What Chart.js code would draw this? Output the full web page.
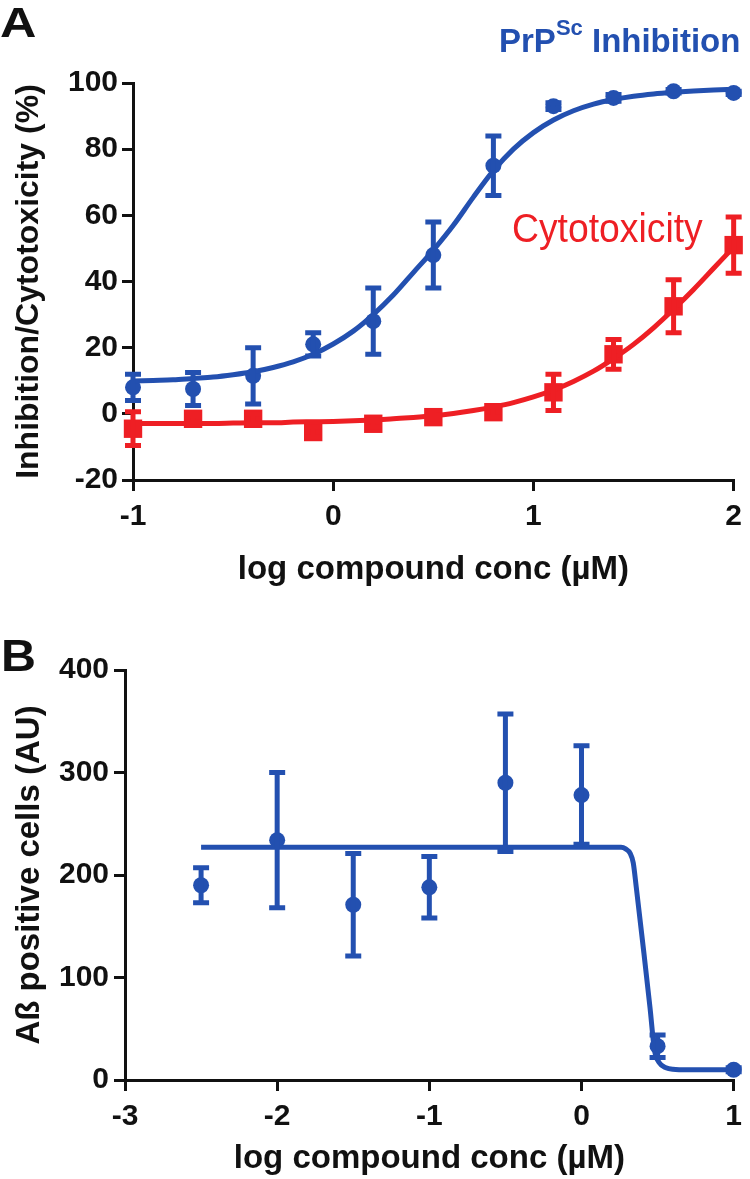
<!DOCTYPE html>
<html><head><meta charset="utf-8">
<script src="https://cdn.jsdelivr.net/npm/chart.js@4.4.1/dist/chart.umd.min.js"></script>
<style>
body{margin:0;background:#fff;}
#wrap{position:relative;width:750px;height:1179px;overflow:hidden;font-family:"Liberation Sans",Arial,sans-serif;}
canvas{position:absolute;left:0;}
.lbl{position:absolute;white-space:nowrap;line-height:1;transform-origin:0 0;}
</style></head><body>
<div id="wrap">
<canvas id="cA" width="750" height="600" style="top:0"></canvas>
<canvas id="cB" width="750" height="579" style="top:600px"></canvas>
<div class="lbl" style="left:0;top:2px;font-weight:bold;font-size:42px;color:#111;transform:scaleX(1.2);">A</div>
<div class="lbl" style="left:1px;top:634px;font-weight:bold;font-size:44px;color:#111;transform:scaleX(1.1);">B</div>
<div class="lbl" style="left:499px;top:24px;font-weight:bold;font-size:33px;color:#2350B0;">PrP<span style="font-size:22px;position:relative;top:-17px;">Sc</span> Inhibition</div>
<div class="lbl" style="left:512px;top:208px;font-size:41px;color:#EE1F24;transform:scaleX(0.91);">Cytotoxicity</div>
</div>
<script>
// ---- Panel A data ----
const xA = [-1, -0.7, -0.4, -0.1, 0.2, 0.5, 0.8, 1.1, 1.4, 1.7, 2];
const blueMean = [8, 7.5, 11.5, 21, 28, 48, 75, 93, 95.5, 97.5, 97];
const blueErr  = [4, 5, 8.5, 3.5, 10, 10, 9, 1, 1, 0.5, 0.5];
const redMean  = [-4.5, -1.5, -1.5, -5.5, -3, -1, 0.5, 6.5, 18, 32.5, 51];
const redErr   = [5.1, 1, 1.5, 1.5, 1, 0.5, 1.5, 5.5, 4.5, 8, 8.5];
const curveXA = [-1.0,-0.9,-0.8,-0.7,-0.6,-0.5,-0.4,-0.3,-0.2,-0.1,0.0,0.1,0.2,0.3,0.4,0.5,0.6,0.7,0.8,0.9,1.0,1.1,1.2,1.3,1.4,1.5,1.6,1.7,1.8,1.9,2.0];
const blueFit = [9.9,10.1,10.3,10.7,11.1,11.8,12.7,14.0,15.7,18.0,21.1,25.0,30.0,35.9,42.7,49.5,57.0,65.5,73.5,80.0,85.0,88.8,91.6,93.6,95.0,96.0,96.7,97.2,97.6,97.9,98.1];
const redFit  = [-2.9,-2.9,-2.9,-2.9,-2.9,-2.8,-2.7,-2.7,-2.5,-2.4,-2.3,-2.1,-1.9,-1.5,-1.1,-0.6,0.1,1.0,2.1,3.4,5.1,7.2,9.8,12.9,16.7,21.0,26.0,31.6,37.6,44.0,50.4];
const xTicksA = [-1, 0, 1, 2];
const yTicksA = [-20, 0, 20, 40, 60, 80, 100];

// ---- Panel B data ----
const xB = [-2.5, -2, -1.5, -1, -0.5, 0, 0.5, 1];
const bMean = [190, 234, 171, 188, 290, 278, 33, 10];
const bErr  = [17, 66, 50, 30, 67, 48, 11, 2];
const curveXB = [-2.5, 0.26, 0.29, 0.32, 0.34, 0.36, 0.41, 0.45, 0.48, 0.51, 0.555, 0.6, 0.7, 1.0];
const curveYB = [227, 227, 225.5, 221, 212, 188, 124, 71, 29, 17, 12, 10.5, 10, 10];
const xTicksB = [-3, -2, -1, 0, 1];
const yTicksB = [0, 100, 200, 300, 400];

const BLUE = '#2350B0', RED = '#EE1F24', INK = '#111';
const FONT = '"Liberation Sans", Arial, sans-serif';

const pts = (xs, ys) => xs.map((x, i) => ({x, y: ys[i]}));

const errorBars = {
  id: 'errorBars',
  afterDatasetsDraw(chart) {
    const ctx = chart.ctx, xs = chart.scales.x, ys = chart.scales.y;
    chart.data.datasets.forEach(ds => {
      if (!ds.errors) return;
      ctx.save();
      ctx.strokeStyle = ds.borderColor; ctx.lineWidth = 5; ctx.lineCap = 'butt';
      ds.data.forEach((p, j) => {
        const e = ds.errors[j];
        const px = xs.getPixelForValue(p.x);
        const yt = ys.getPixelForValue(p.y + e), yb = ys.getPixelForValue(p.y - e);
        ctx.beginPath();
        ctx.moveTo(px, yt); ctx.lineTo(px, yb);
        ctx.moveTo(px - 8, yt); ctx.lineTo(px + 8, yt);
        ctx.moveTo(px - 8, yb); ctx.lineTo(px + 8, yb);
        ctx.stroke();
      });
      ctx.restore();
    });
  }
};

function axis(min, max, ticks, title, opts) {
  return {
    type: 'linear', min, max,
    afterBuildTicks: s => { s.ticks = ticks.map(v => ({value: v})); },
    afterFit: s => { if (opts.w !== undefined) s.width = opts.w; if (opts.h !== undefined) s.height = opts.h; },
    border: {display: true, color: INK, width: 3},
    grid: {display: true, drawOnChartArea: false, drawTicks: true, tickLength: 11, lineWidth: 3, color: INK, tickColor: INK},
    ticks: {color: INK, font: {family: FONT, size: 30, weight: 'bold'}, padding: opts.tp},
    title: {display: true, text: title, color: INK, font: {family: FONT, size: opts.ts, weight: 'bold'}, padding: opts.titlePad}
  };
}

function baseOpts(layoutPad, xAxis, yAxis) {
  return {
    responsive: false, animation: false, devicePixelRatio: 1,
    layout: {padding: layoutPad},
    plugins: {legend: {display: false}, tooltip: {enabled: false}},
    scales: {x: xAxis, y: yAxis}
  };
}

new Chart(document.getElementById('cA'), {
  type: 'scatter',
  data: {datasets: [
    {data: pts(curveXA, blueFit), showLine: true, borderColor: BLUE, borderWidth: 5, pointRadius: 0, cubicInterpolationMode: 'monotone', clip: false},
    {data: pts(curveXA, redFit), showLine: true, borderColor: RED, borderWidth: 5, pointRadius: 0, cubicInterpolationMode: 'monotone', clip: false},
    {data: pts(xA, blueMean), errors: blueErr, showLine: false, pointStyle: 'circle', pointRadius: 8, backgroundColor: BLUE, borderColor: BLUE, borderWidth: 0, clip: false},
    {data: pts(xA, redMean), errors: redErr, showLine: false, pointStyle: 'rect', pointRadius: 13, backgroundColor: RED, borderColor: RED, borderWidth: 0, clip: false}
  ]},
  options: baseOpts({top: 83, right: 13, bottom: 10, left: 0},
    axis(-1, 2, xTicksA, 'log compound conc (µM)', {h: 110, tp: 8, ts: 33, titlePad: {top: 0, bottom: 0}}),
    axis(-20, 100, yTicksA, 'Inhibition/Cytotoxicity (%)', {w: 133, tp: 4, ts: 32, titlePad: {top: 10, bottom: 0}})),
  plugins: [errorBars]
});

new Chart(document.getElementById('cB'), {
  type: 'scatter',
  data: {datasets: [
    {data: pts(curveXB, curveYB), showLine: true, borderColor: BLUE, borderWidth: 5, pointRadius: 0, cubicInterpolationMode: 'monotone', clip: false},
    {data: pts(xB, bMean), errors: bErr, showLine: false, pointStyle: 'circle', pointRadius: 8, backgroundColor: BLUE, borderColor: BLUE, borderWidth: 0, clip: false}
  ]},
  options: baseOpts({top: 70, right: 8, bottom: 0, left: 0},
    axis(-3, 1, xTicksB, 'log compound conc (µM)', {h: 99, tp: 8, ts: 33, titlePad: {top: 0, bottom: 0}}),
    axis(0, 400, yTicksB, 'Aß positive cells (AU)', {w: 125, tp: 5, ts: 33, titlePad: {top: 10, bottom: 0}})),
  plugins: [errorBars]
});
</script>
</body></html>
